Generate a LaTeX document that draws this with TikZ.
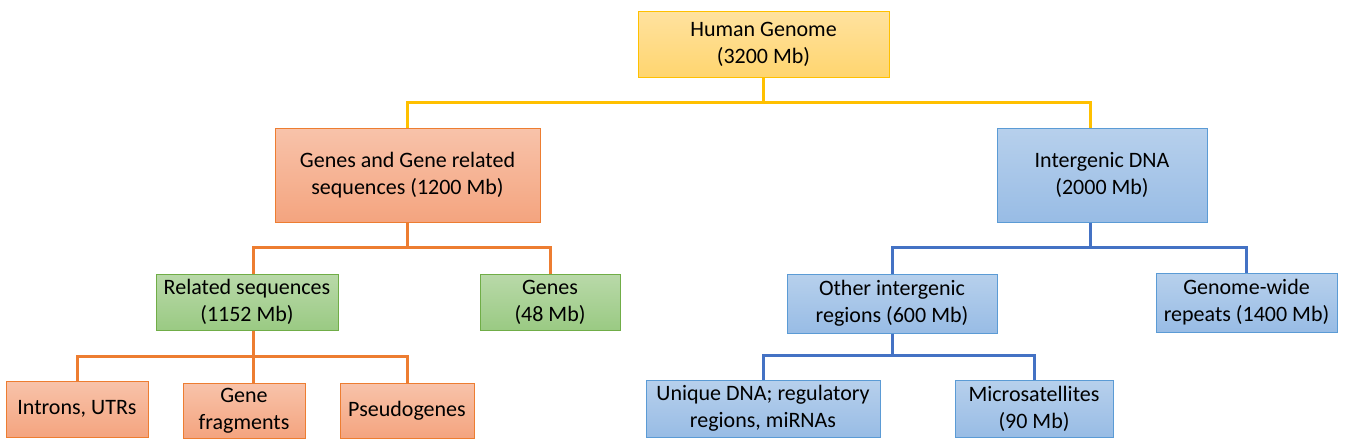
\documentclass[tikz,border=0pt]{standalone}
\usepackage{fontspec}
\setmainfont{Carlito}
\usepackage{xcolor}
\usepackage{tikz}
\usetikzlibrary{positioning}

\definecolor{ylwline}{HTML}{FFC000}
\definecolor{ylwtop}{HTML}{FFE29F}
\definecolor{ylwbot}{HTML}{FFD56F}
\definecolor{orline}{HTML}{ED7D31}
\definecolor{ortop}{HTML}{F8C3AA}
\definecolor{orbot}{HTML}{F4A47F}
\definecolor{grline}{HTML}{70AD47}
\definecolor{grtop}{HTML}{B9D9A9}
\definecolor{grbot}{HTML}{9ACA83}
\definecolor{blline}{HTML}{5B9BD5}
\definecolor{bltop}{HTML}{B7D0EC}
\definecolor{blbot}{HTML}{98BCE5}
\definecolor{blconn}{HTML}{4472C4}

\begin{document}
\begin{tikzpicture}[
  x=0.5pt, y=-0.5pt,
  font=\fontsize{11}{13.5}\selectfont,
  box/.style={draw, align=center, inner sep=2pt, line width=0.5pt},
  ylwbox/.style={box, draw=ylwline, top color=ylwtop, bottom color=ylwbot},
  orbox/.style={box, draw=orline, top color=ortop, bottom color=orbot},
  grbox/.style={box, draw=grline, top color=grtop, bottom color=grbot},
  blbox/.style={box, draw=blline, top color=bltop, bottom color=blbot},
  conn/.style={line width=1.5pt},
]
\useasboundingbox (0,0) rectangle (1347,446);
% top level
\node[ylwbox, minimum width=125.5pt, minimum height=33pt] (genome) at (763.5,44) {Human Genome\\(3200 Mb)};
% second level
\node[orbox, minimum width=132.5pt, minimum height=47pt] (generel) at (407.5,175) {Genes and Gene related\\sequences (1200 Mb)};
\node[blbox, minimum width=105pt, minimum height=47pt] (interdna) at (1102,175) {Intergenic DNA\\(2000 Mb)};
% third level
\node[grbox, minimum width=91pt, minimum height=28pt] (relseq) at (247,302) {Related sequences\\(1152 Mb)};
\node[grbox, minimum width=70pt, minimum height=28pt] (genes) at (550,302) {Genes\\(48 Mb)};
\node[blbox, minimum width=105pt, minimum height=29.5pt] (otherreg) at (892,303.5) {Other intergenic\\regions (600 Mb)};
\node[blbox, minimum width=90.5pt, minimum height=29.5pt] (repeats) at (1246.5,302.5) {Genome-wide\\repeats (1400 Mb)};
% fourth level
\node[orbox, minimum width=71pt, minimum height=28pt] (introns) at (77,409) {Introns, UTRs};
\node[orbox, minimum width=61pt, minimum height=27.5pt] (genefrag) at (244,410.5) {Gene\\fragments};
\node[orbox, minimum width=67pt, minimum height=27.5pt] (pseudo) at (407,410.5) {Pseudogenes};
\node[blbox, minimum width=117pt, minimum height=28.5pt] (unique) at (763,408.5) {Unique DNA; regulatory\\regions, miRNAs};
\node[blbox, minimum width=79pt, minimum height=28.5pt] (microsat) at (1034,408.5) {Microsatellites\\(90 Mb)};
% connectors
\draw[conn, ylwline] (genome.south) -- ++(0,25) -| (generel.north);
\draw[conn, ylwline] (genome.south) -- ++(0,25) -| ([xshift=-6pt]interdna.north);
\draw[conn, orline] (generel.south) -- ++(0,25) -| ([xshift=3pt]relseq.north);
\draw[conn, orline] (generel.south) -- ++(0,25) -| (genes.north);
\draw[conn, orline] ([xshift=3pt]relseq.south) -- ++(0,26) -| (introns.north);
\draw[conn, orline] ([xshift=3pt]relseq.south) -- ++(0,26) -| (pseudo.north);
\draw[conn, orline] ([xshift=3pt]relseq.south) -- ([xshift=3pt]relseq.south |- genefrag.north);
\draw[conn, blconn] ([xshift=-6pt]interdna.south) -- ++(0,25) -| (otherreg.north);
\draw[conn, blconn] ([xshift=-6pt]interdna.south) -- ++(0,25) -| (repeats.north);
\draw[conn, blconn] (otherreg.south) -- ++(0,22) -| (unique.north);
\draw[conn, blconn] (otherreg.south) -- ++(0,22) -| (microsat.north);
\end{tikzpicture}
\end{document}
